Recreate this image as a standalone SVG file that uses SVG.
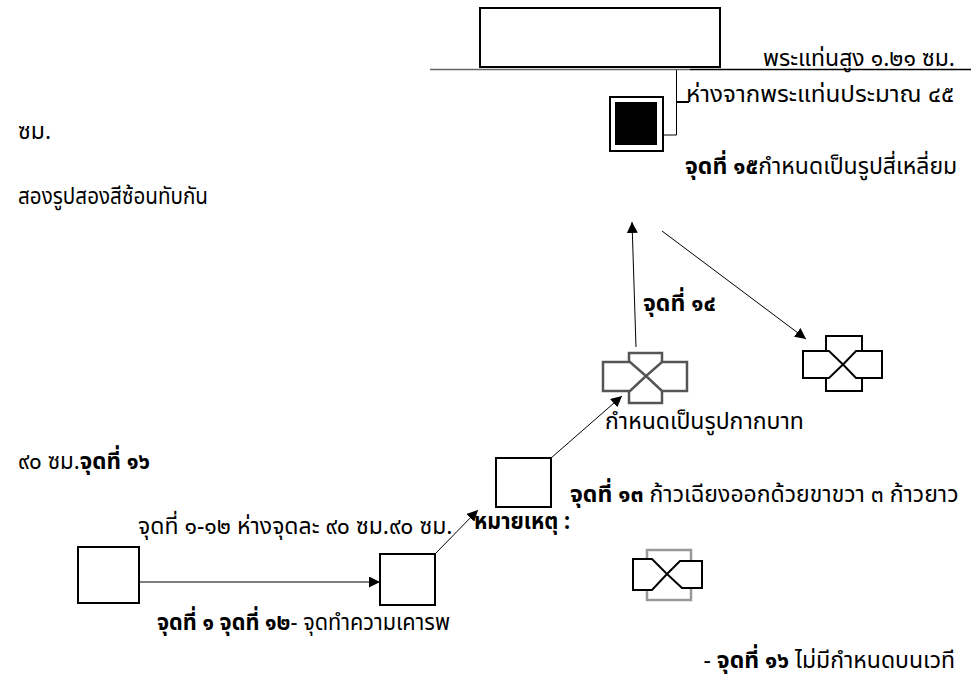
<svg xmlns="http://www.w3.org/2000/svg" width="971" height="677" viewBox="0 0 971 677">
<style>
text{font-family:"Noto Sans Thai","Noto Sans","Liberation Sans",sans-serif;font-size:23px;fill:#000}
.b{font-weight:bold}
.box{fill:#fff;stroke:#000;stroke-width:2}
.ln{fill:none;stroke:#000;stroke-width:1}
.gray{fill:#fff;stroke:#555;stroke-width:2.5;filter:url(#blur)}
.pent{fill:#fff;stroke:#000;stroke-width:2;stroke-linejoin:miter}
</style>
<defs>
<marker id="ah" viewBox="0 0 10 10" refX="10" refY="5" markerWidth="11" markerHeight="11" markerUnits="userSpaceOnUse" orient="auto">
<path d="M0,0 L10,5 L0,10 z" fill="#000"/>
</marker>
<filter id="blur" x="-10%" y="-10%" width="120%" height="120%"><feGaussianBlur stdDeviation="0.6"/></filter>
</defs>
<rect width="971" height="677" fill="#fff"/>

<g id="stage">
<rect class="box" x="480" y="8" width="240" height="59"/>
<line x1="430" y1="69.5" x2="690" y2="69.5" stroke="#666" stroke-width="1.5"/>
<line x1="690" y1="69.5" x2="971" y2="69.5" stroke="#000" stroke-width="1.5"/>
<text x="763" y="66">พระแท่นสูง ๑.๒๑ ซม.</text>
</g>

<g id="point15">
<rect class="box" x="610" y="97" width="53" height="54"/>
<rect x="615" y="102" width="42" height="43" fill="#000"/>
<text x="685" y="174"><tspan class="b">จุดที่ ๑๕</tspan>กำหนดเป็นรูปสี่เหลี่ยม</text>
</g>

<g id="point14">
<rect class="gray" x="629" y="353" width="33" height="50"/>
<polygon class="gray" points="603,362 630,362 646,376 630,391 603,391"/>
<polygon class="gray" points="687,362 662,362 646,376 662,391 687,391"/>
<text x="605" y="429">กำหนดเป็นรูปกากบาท</text>
</g>

<g id="point14-right">
<rect class="box" x="826" y="336" width="36" height="55"/>
<polygon class="pent" points="803,351 829,351 843,364.5 829,378 803,378"/>
<polygon class="pent" points="882,351 856,351 843,364.5 856,378 882,378"/>
</g>

<g id="point13">
<rect class="box" x="496" y="458" width="55" height="49"/>
<text x="570" y="502"><tspan class="b">จุดที่ ๑๓</tspan> ก้าวเฉียงออกด้วยขาขวา ๓ ก้าวยาว</text>
</g>

<g id="point1">
<rect class="box" x="78" y="547" width="61" height="56"/>
</g>

<g id="point12">
<rect class="box" x="380" y="554" width="55" height="51"/>
<text x="157" y="630" textLength="293" lengthAdjust="spacingAndGlyphs"><tspan class="b">จุดที่ ๑ จุดที่ ๑๒</tspan>- จุดทำความเคารพ</text>
</g>

<g id="legend">
<text x="474" y="529" class="b" textLength="96" lengthAdjust="spacingAndGlyphs">หมายเหตุ :</text>
<rect x="647" y="550" width="44" height="50" fill="#fff" stroke="#999" stroke-width="2.5" filter="url(#blur)"/>
<polygon class="pent" points="633,559 652,559 667,574 652,590 633,590"/>
<polygon class="pent" points="702,561 680,561 667,574 682,588 702,588"/>
<text x="955" y="668" text-anchor="end">- <tspan class="b">จุดที่ ๑๖</tspan> ไม่มีกำหนดบนเวที</text>
</g>

<g id="notes">
<text x="686" y="102" textLength="268" lengthAdjust="spacingAndGlyphs">ห่างจากพระแท่นประมาณ ๔๕</text>
<text x="18" y="139">ซม.</text>
<text x="18" y="204" textLength="190" lengthAdjust="spacingAndGlyphs">สองรูปสองสีซ้อนทับกัน</text>
<text x="643" y="311" class="b">จุดที่ ๑๔</text>
<text x="18" y="469" textLength="132" lengthAdjust="spacingAndGlyphs">๙๐ ซม.<tspan class="b">จุดที่ ๑๖</tspan></text>
<text x="138" y="534">จุดที่ ๑-๑๒ ห่างจุดละ ๙๐ ซม.๙๐ ซม.</text>
</g>

<g id="connectors">
<polyline class="ln" points="676.5,70 676.5,135 663,135"/>
<line x1="676" y1="102" x2="689" y2="102" stroke="#000" stroke-width="2"/>
<line class="ln" x1="139" y1="582" x2="380" y2="582" marker-end="url(#ah)"/>
<line class="ln" x1="435" y1="554" x2="478" y2="510" marker-end="url(#ah)"/>
<line class="ln" x1="551" y1="458" x2="622" y2="396" marker-end="url(#ah)"/>
<line class="ln" x1="636" y1="347" x2="632" y2="222" marker-end="url(#ah)"/>
<line class="ln" x1="662" y1="231" x2="806" y2="339" marker-end="url(#ah)"/>
</g>
</svg>
